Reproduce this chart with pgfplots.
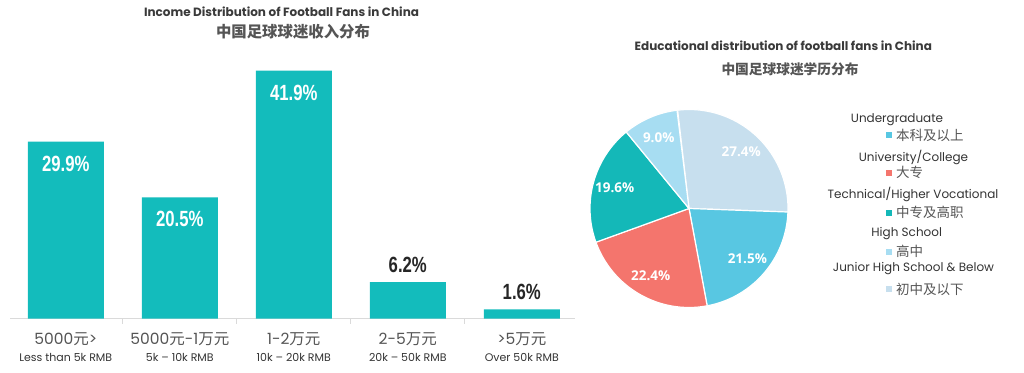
\documentclass[border=0pt]{standalone}
\usepackage{fontspec}
\setmainfont{Poppins}
\newfontfamily\cjk{Noto Sans CJK SC}
\newfontfamily\valfont{Liberation Sans}
\newfontfamily\pielab{Open Sans}
\usepackage{pgfplots}
\pgfplotsset{compat=1.18}
\usepackage{pgfplotstable}
\definecolor{barc}{HTML}{13BCBC}
\definecolor{cUnd}{HTML}{58C7E2}
\definecolor{cUni}{HTML}{F4756D}
\definecolor{cTec}{HTML}{14B8B8}
\definecolor{cHig}{HTML}{A7DDF2}
\definecolor{cJun}{HTML}{C7DFEE}
\definecolor{ttl}{HTML}{3A3A3A}
\definecolor{sub}{HTML}{555555}
\definecolor{lab}{HTML}{333333}
\definecolor{axc}{HTML}{DADADA}

\pgfplotstableread{
x val
0 29.9
1 20.5
2 41.9
}\insidebars
\pgfplotstableread{
x val
3 6.2
4 1.6
}\outsidebars

\newcommand\xl[2]{#1\\{\color{lab}\fontsize{11}{13}\selectfont #2}}
\newcommand\sector[4]{%
  \fill[#1, draw=white, line width=1.2pt] (axis cs:0,0) -- ++({96.6-3.6*#2}:99pt)
     arc[start angle={96.6-3.6*#2}, end angle={96.6-3.6*(#2+#3)}, radius=99pt] -- cycle;
  \node[text=white, font=\pielab\bfseries\fontsize{13.5}{15}\selectfont]
     at (axis cs:{77*cos(96.6-3.6*(#2+#3/2))},{77*sin(96.6-3.6*(#2+#3/2))}) {#4};
}

\begin{document}
\begin{tikzpicture}[x=1pt,y=1pt]
\path[use as bounding box] (0,0) rectangle (1024,372);

% ---- left titles
\node[font=\bfseries\fontsize{12}{14}\selectfont, text=ttl] at (281.5,360.3) {Income Distribution of Football Fans in China};
\node[font=\cjk\bfseries\fontsize{15.4}{18}\selectfont, text=sub] at (293,340.3) {中国足球球迷收入分布};

\begin{axis}[
  at={(9,90)}, anchor=south west,
  scale only axis, width=565pt, height=266.4pt,
  xmin=-0.487, xmax=4.469, ymin=0, ymax=45,
  axis x line=bottom, axis y line=none,
  x axis line style={-, draw=axc, line width=0.8pt},
  ytick=\empty,
  xtick={0,1,2,3,4},
  major tick length=0pt,
  xticklabels={
    {\xl{5000{\cjk 元}>}{Less than 5k RMB}},
    {\xl{5000{\cjk 元}-1{\cjk 万元}}{5k -- 10k RMB}},
    {\xl{1-2{\cjk 万元}}{10k -- 20k RMB}},
    {\xl{2-5{\cjk 万元}}{20k -- 50k RMB}},
    {\xl{>5{\cjk 万元}}{Over 50k RMB}}},
  xticklabel style={align=center, text=sub, font=\fontsize{15.5}{17}\selectfont, yshift=-10pt},
  extra x ticks={0.5,1.5,2.5,3.5},
  extra x tick labels={},
  extra x tick style={major tick length=5pt, tick align=outside, tick style={draw=axc, line width=0.8pt}},
  ybar, bar width=76pt, bar shift=0pt,
  /pgf/number format/assume math mode=true,
  clip=false,
]
\addplot[fill=barc, draw=none,
  nodes near coords={\scalebox{0.76}[1]{\pgfmathprintnumber[fixed,fixed zerofill,precision=1]{\pgfplotspointmeta}\%}},
  nodes near coords style={anchor=center, yshift=-22pt, text=white, font=\valfont\bfseries\fontsize{22}{24}\selectfont}]
  table[x=x,y=val]{\insidebars};
\addplot[fill=barc, draw=none,
  nodes near coords={\scalebox{0.76}[1]{\pgfmathprintnumber[fixed,fixed zerofill,precision=1]{\pgfplotspointmeta}\%}},
  nodes near coords style={anchor=center, yshift=17pt, text=black!85, font=\valfont\bfseries\fontsize{22}{24}\selectfont}]
  table[x=x,y=val]{\outsidebars};
\end{axis}

% ---- right titles
\node[font=\bfseries\fontsize{12}{14}\selectfont, text=ttl] at (783.3,326) {Educational distribution of football fans in China};
\node[font=\cjk\bfseries\fontsize{13.7}{16}\selectfont, text=sub] at (790,302.7) {中国足球球迷学历分布};

\begin{axis}[
  at={(689,163.5)}, anchor=origin,
  x=1pt, y=1pt, xmin=-110, xmax=110, ymin=-110, ymax=110,
  hide axis, clip=false,
]
\sector{cJun}{0}{27.4}{27.4\%}
\sector{cUnd}{27.4}{21.5}{21.5\%}
\sector{cUni}{48.9}{22.4}{22.4\%}
\sector{cTec}{71.3}{19.6}{19.6\%}
\sector{cHig}{90.9}{9.0}{9.0\%}
\end{axis}

% ---- legend
\tikzset{en/.style={font=\fontsize{12}{14}\selectfont, text=lab, anchor=center},
         zh/.style={font=\cjk\fontsize{13.5}{15}\selectfont, text=sub, anchor=west, inner sep=0pt},
         sw/.style={minimum size=6pt, inner sep=0pt}}
\node[en] at (897,252) {Undergraduate};
\node[sw, fill=cUnd] at (888.5,237) {};
\node[zh] at (896,237) {本科及以上};
\node[en] at (913.5,214.7) {University/College};
\node[sw, fill=cUni] at (888.5,199.3) {};
\node[zh] at (896,199.3) {大专};
\node[en] at (913,177.7) {Technical/Higher Vocational};
\node[sw, fill=cTec] at (888.5,159.3) {};
\node[zh] at (896,159.3) {中专及高职};
\node[en] at (906.7,138.7) {High School};
\node[sw, fill=cHig] at (888.5,120.3) {};
\node[zh] at (896,120.3) {高中};
\node[en] at (913.5,103.7) {Junior High School \& Below};
\node[sw, fill=cJun] at (888.5,82.7) {};
\node[zh] at (896,82.7) {初中及以下};
\end{tikzpicture}
\end{document}
